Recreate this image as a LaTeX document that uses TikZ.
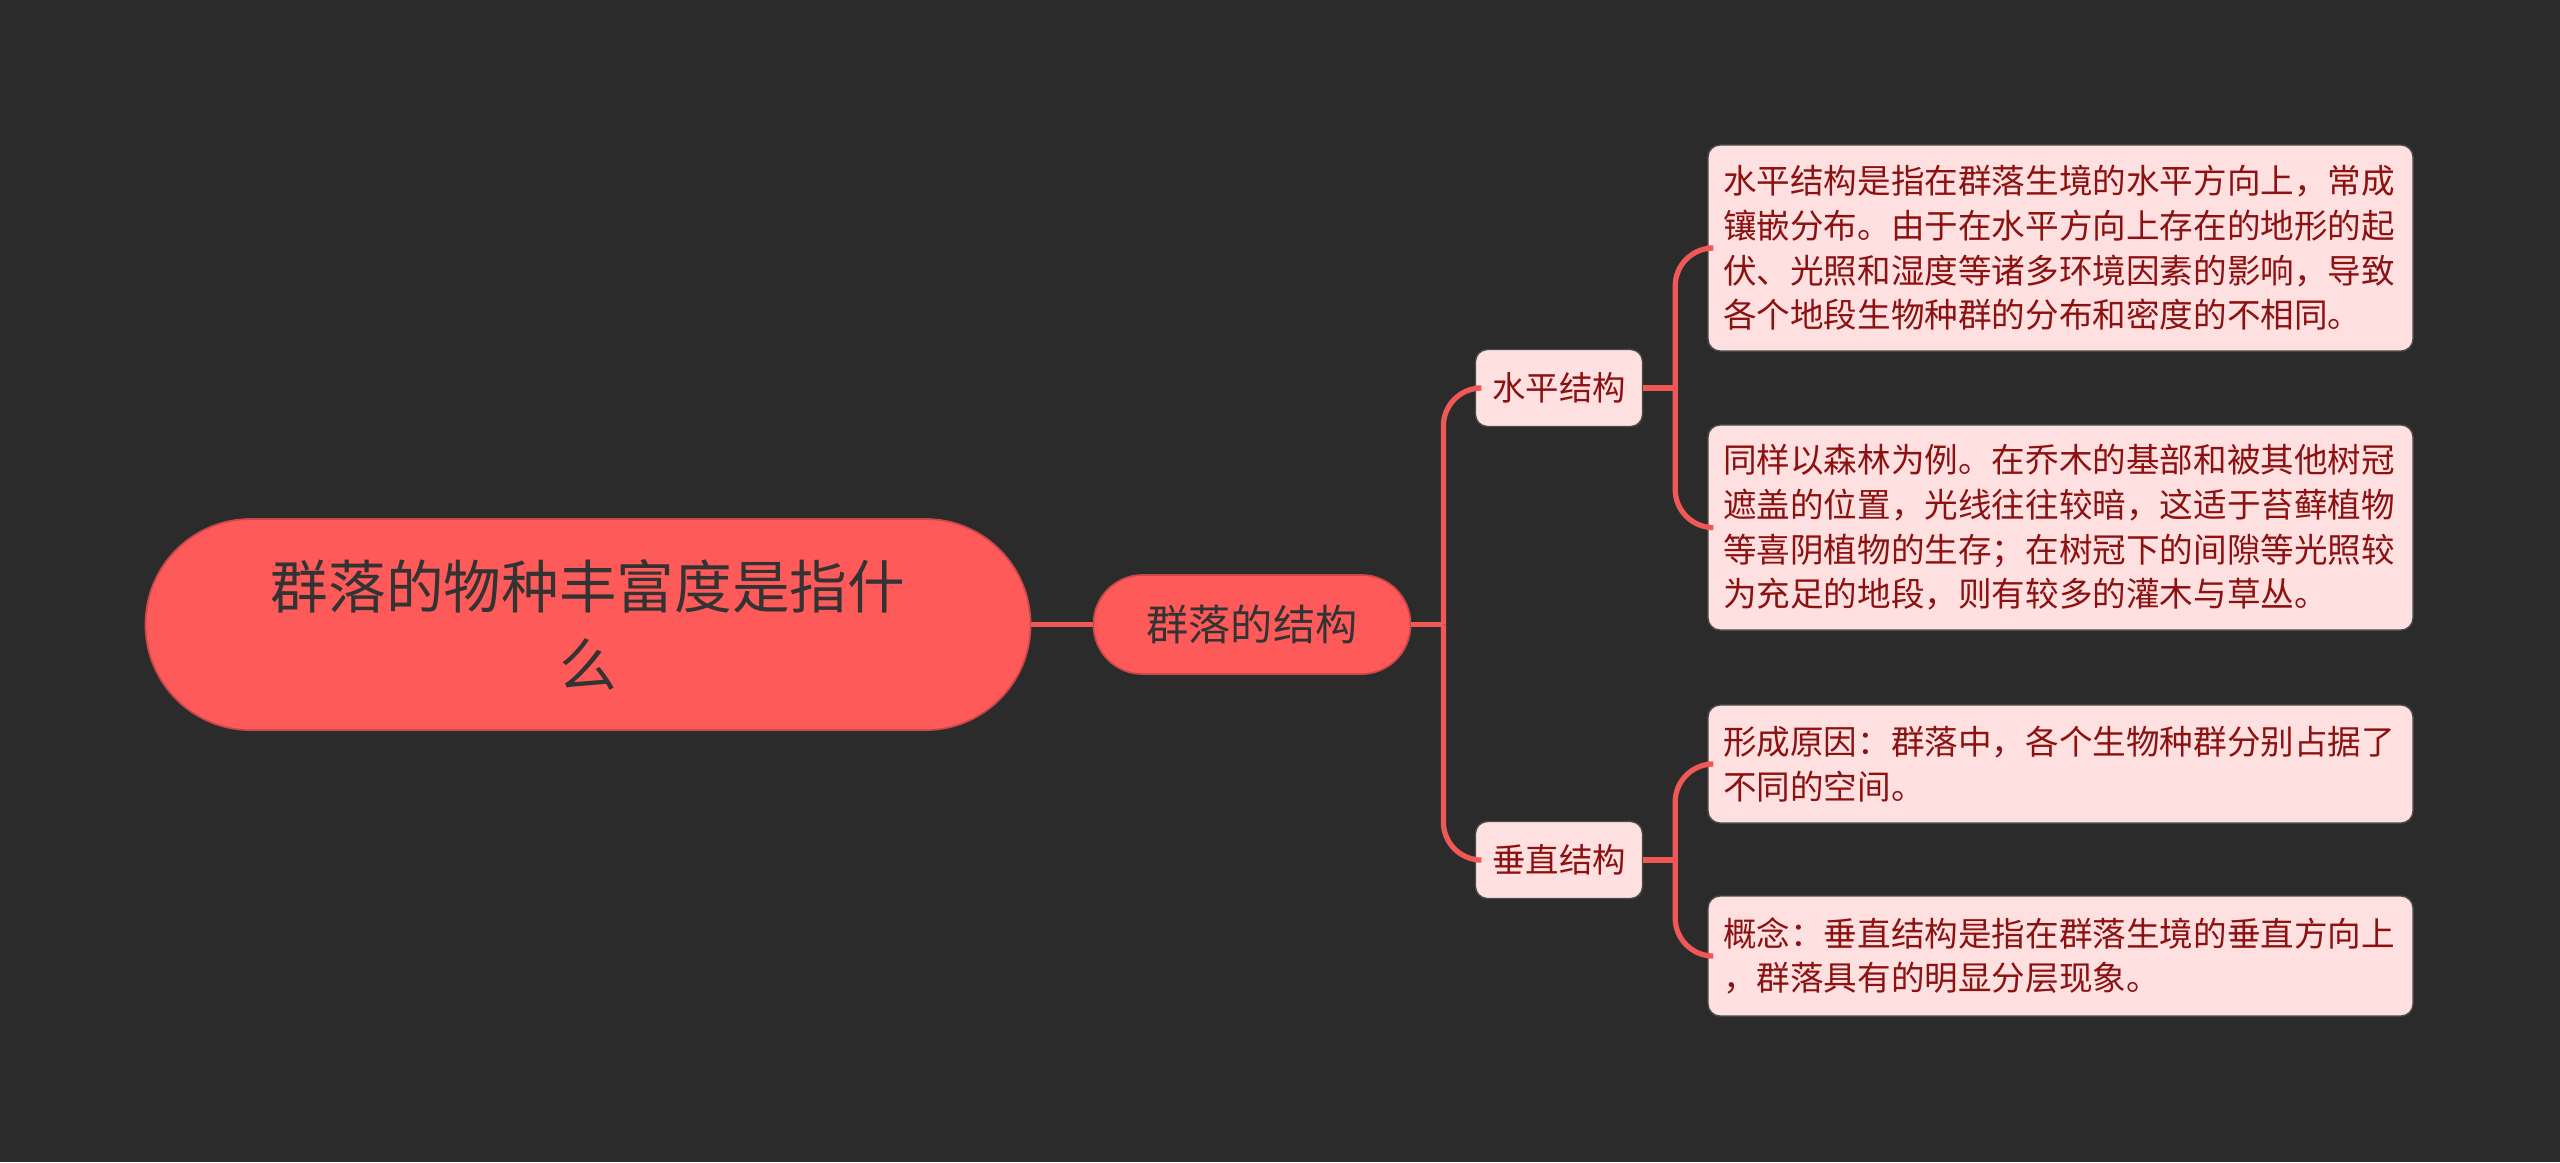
\documentclass[tikz,border=0pt]{standalone}
\usepackage{fontspec}
\setmainfont{Noto Sans CJK SC}

\definecolor{bgcolor}{RGB}{43,43,43}
\definecolor{rootcolor}{RGB}{255,90,90}
\definecolor{edgecolor}{RGB}{240,88,88}
\definecolor{leafcolor}{RGB}{255,224,224}
\definecolor{leaftext}{RGB}{140,18,18}
\definecolor{darktext}{RGB}{51,51,51}

\begin{document}
\begin{tikzpicture}[
    x=1cm, y=1cm,
    %% Column centres:  x = 5.88  12.52  15.59  20.605
    rootbox/.style={draw=rootcolor!80!black, line width=0.5pt, fill=rootcolor,
                 text=darktext, rounded corners=1.05cm,
                 minimum width=8.85cm, minimum height=2.11cm, inner sep=0pt,
                 align=center, font=\fontsize{16.4}{22.2}\selectfont},
    subbox/.style={draw=rootcolor!80!black, line width=0.5pt, fill=rootcolor,
                 text=darktext, rounded corners=0.49cm,
                 minimum width=3.17cm, minimum height=0.99cm, inner sep=0pt,
                 font=\fontsize{12}{14}\selectfont},
    midbox/.style={draw=black!70, line width=0.4pt, fill=leafcolor,
                 text=leaftext, rounded corners=0.12cm,
                 minimum width=1.67cm, minimum height=0.77cm, inner sep=0pt,
                 font=\fontsize{9.5}{12}\selectfont},
    leafbox/.style={draw=black!70, line width=0.4pt, fill=leafcolor,
                 text=leaftext, rounded corners=0.12cm,
                 text width=6.75cm, inner xsep=0.15cm, inner ysep=0pt,
                 align=left, font=\fontsize{9.56}{12.7}\selectfont},
    conn/.style={draw=edgecolor, line width=1.5pt},
    branchline/.style={conn, rounded corners=0.38cm},
]

%% ── Canvas ───────────────────────────────────────────────────────────────
\fill[bgcolor] (0,0) rectangle (25.6,-11.62);
\useasboundingbox (0,0) rectangle (25.6,-11.62);

%% ── Root and first level ─────────────────────────────────────────────────
\node[rootbox] (root) at (5.88,-6.245)
    {群落的物种丰富度是指什\\么};
\node[subbox] (sub) at (12.52,-6.245) {群落的结构};

%% ── Second level ─────────────────────────────────────────────────────────
\node[midbox] (hs) at (15.59,-3.88) {水平结构};
\node[midbox] (vs) at (15.59,-8.60) {垂直结构};

%% ── Leaves ───────────────────────────────────────────────────────────────
\node[leafbox, minimum height=2.06cm] (hsa) at (20.605,-2.48)
    {水平结构是指在群落生境的水平方向上，常成\\
     镶嵌分布。由于在水平方向上存在的地形的起\\
     伏、光照和湿度等诸多环境因素的影响，导致\\
     各个地段生物种群的分布和密度的不相同。};

\node[leafbox, minimum height=2.05cm] (hsb) at (20.605,-5.275)
    {同样以森林为例。在乔木的基部和被其他树冠\\
     遮盖的位置，光线往往较暗，这适于苔藓植物\\
     等喜阴植物的生存；在树冠下的间隙等光照较\\
     为充足的地段，则有较多的灌木与草丛。};

\node[leafbox, minimum height=1.18cm] (vsa) at (20.605,-7.64)
    {形成原因：群落中，各个生物种群分别占据了\\
     不同的空间。};

\node[leafbox, minimum height=1.20cm] (vsb) at (20.605,-9.56)
    {概念：垂直结构是指在群落生境的垂直方向上\\
     ，群落具有的明显分层现象。};

%% ── Connectors ───────────────────────────────────────────────────────────
\coordinate (j1) at ([xshift=0.32cm]sub.east);
\coordinate (j2) at ([xshift=0.32cm]hs.east);
\coordinate (j3) at ([xshift=0.32cm]vs.east);

\draw[conn] (root.east) -- (sub.west);
\draw[conn] (sub.east) -- (j1);
\draw[branchline] (j1) |- (hs.west);
\draw[branchline] (j1) |- (vs.west);

\draw[conn] (hs.east) -- (j2);
\draw[branchline] (j2) |- (hsa.west);
\draw[branchline] (j2) |- (hsb.west);

\draw[conn] (vs.east) -- (j3);
\draw[branchline] (j3) |- (vsa.west);
\draw[branchline] (j3) |- (vsb.west);

\end{tikzpicture}
\end{document}
